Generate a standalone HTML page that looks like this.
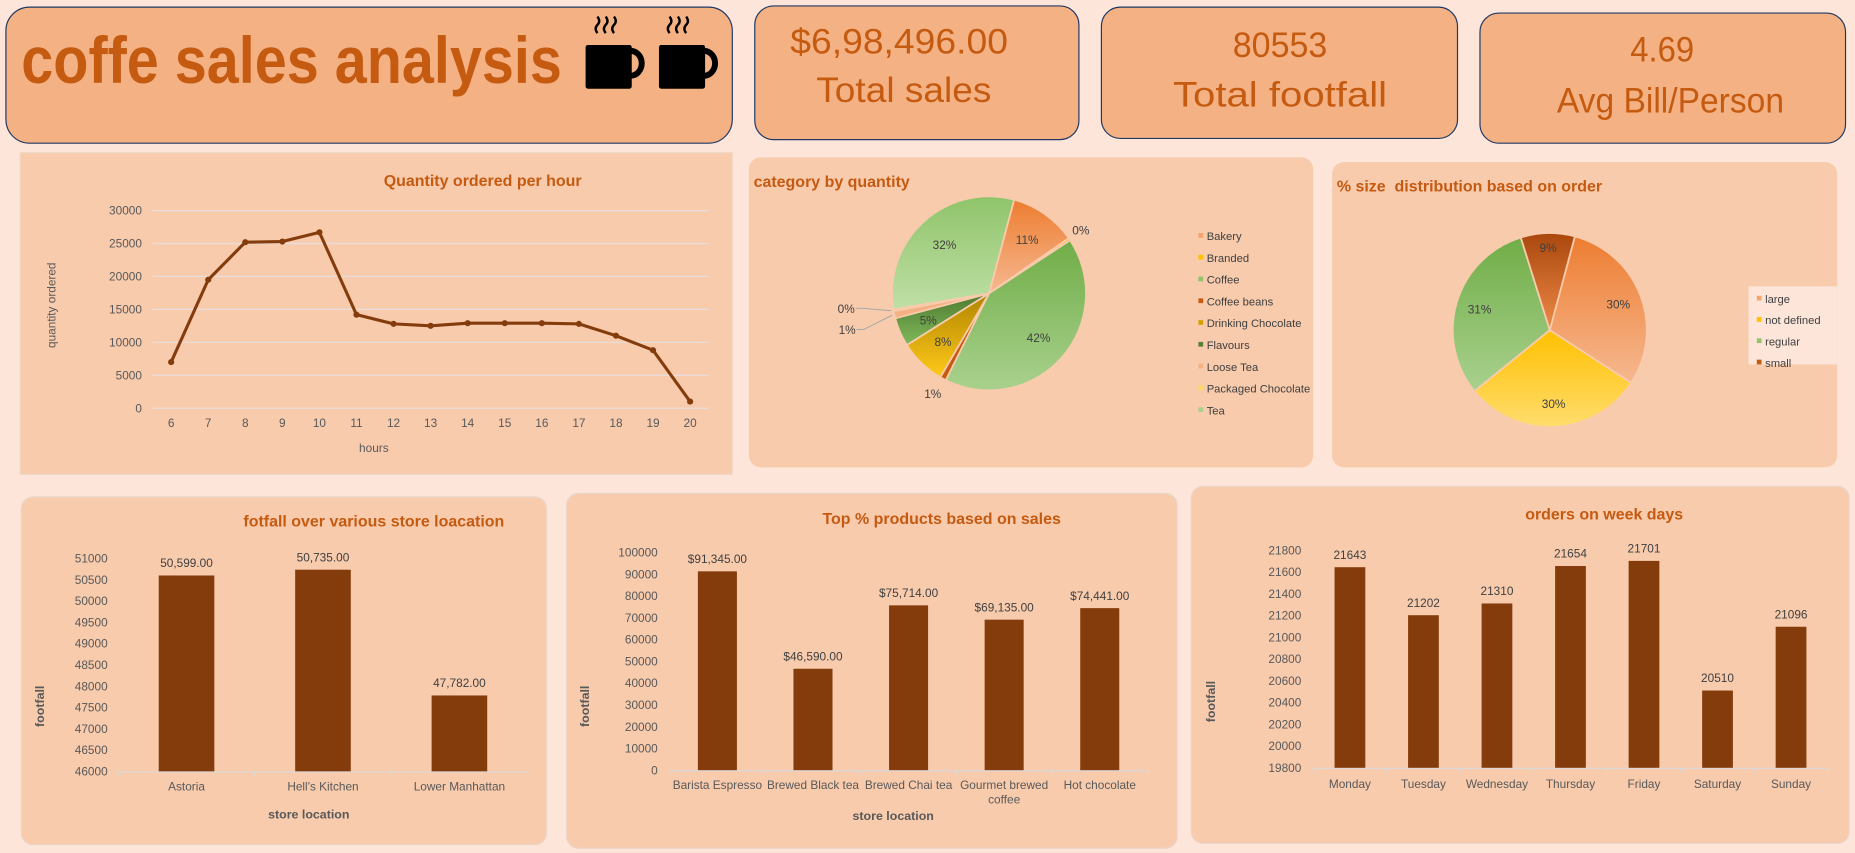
<!DOCTYPE html>
<html><head><meta charset="utf-8"><style>
html,body{margin:0;padding:0;background:#fde6d9;}
svg{display:block;font-family:"Liberation Sans",sans-serif;}
</style></head><body>
<svg id="root" width="1855" height="853" viewBox="0 0 1568 721" xmlns="http://www.w3.org/2000/svg">
<defs>
<linearGradient id="gOrange" x1="0" y1="0" x2="0" y2="1"><stop offset="0" stop-color="#ed7d31"/><stop offset="1" stop-color="#f6b890"/></linearGradient>
<linearGradient id="gYellow" x1="0" y1="0" x2="0" y2="1"><stop offset="0" stop-color="#ffc000"/><stop offset="1" stop-color="#ffdd6e"/></linearGradient>
<linearGradient id="gGreen" x1="0" y1="0" x2="0" y2="1"><stop offset="0" stop-color="#70ad47"/><stop offset="1" stop-color="#a9d18e"/></linearGradient>
<linearGradient id="gTea" x1="0" y1="0" x2="0" y2="1"><stop offset="0" stop-color="#8fc46a"/><stop offset="1" stop-color="#c0dfa6"/></linearGradient>
<linearGradient id="gBrown" x1="0" y1="0" x2="0" y2="1"><stop offset="0" stop-color="#a9470d"/><stop offset="1" stop-color="#ee8a48"/></linearGradient>
<linearGradient id="gGold" x1="0" y1="0" x2="0" y2="1"><stop offset="0" stop-color="#b08400"/><stop offset="1" stop-color="#ffc91a"/></linearGradient>
<linearGradient id="gDkGreen" x1="0" y1="0" x2="0" y2="1"><stop offset="0" stop-color="#4f7a30"/><stop offset="1" stop-color="#7fb85a"/></linearGradient>
</defs>

<rect x="0" y="0" width="1568" height="721" fill="#fde6d9"/>

<g>
<rect x="5" y="6" width="614" height="115" rx="20" fill="#f4b183" stroke="#203864" stroke-width="1"/>
<text x="18" y="70" font-size="56" font-weight="bold" fill="#c55a11" textLength="457" lengthAdjust="spacingAndGlyphs">coffe sales analysis</text>
<g fill="#000">
<path d="M505 28 q-3 -4 0 -7 q3 -3 0 -7" stroke="#000" stroke-width="2" fill="none"/>
<path d="M512 28 q-3 -4 0 -7 q3 -3 0 -7" stroke="#000" stroke-width="2" fill="none"/>
<path d="M519 28 q-3 -4 0 -7 q3 -3 0 -7" stroke="#000" stroke-width="2" fill="none"/>
<rect x="495" y="38" width="39" height="37" rx="2"/>
<path d="M533 43 a9 10 0 0 1 0 21" stroke="#000" stroke-width="5" fill="none"/>
</g>
<g fill="#000">
<path d="M566 28 q-3 -4 0 -7 q3 -3 0 -7" stroke="#000" stroke-width="2" fill="none"/>
<path d="M573 28 q-3 -4 0 -7 q3 -3 0 -7" stroke="#000" stroke-width="2" fill="none"/>
<path d="M580 28 q-3 -4 0 -7 q3 -3 0 -7" stroke="#000" stroke-width="2" fill="none"/>
<rect x="557" y="38" width="39" height="37" rx="2"/>
<path d="M595 43 a9 10 0 0 1 0 21" stroke="#000" stroke-width="5" fill="none"/>
</g>
</g>

<g>
<rect x="638" y="5" width="274" height="113" rx="16" fill="#f4b183" stroke="#203864"/>
<text x="760" y="45" font-size="30" fill="#c55a11" text-anchor="middle" textLength="184" lengthAdjust="spacingAndGlyphs">$6,98,496.00</text>
<text x="764" y="86" font-size="30" fill="#c55a11" text-anchor="middle" textLength="148" lengthAdjust="spacingAndGlyphs">Total sales</text>
</g>
<g>
<rect x="931" y="6" width="301" height="111" rx="16" fill="#f4b183" stroke="#203864"/>
<text x="1082" y="48" font-size="30" fill="#c55a11" text-anchor="middle" textLength="80" lengthAdjust="spacingAndGlyphs">80553</text>
<text x="1082" y="90" font-size="30" fill="#c55a11" text-anchor="middle" textLength="181" lengthAdjust="spacingAndGlyphs">Total footfall</text>
</g>
<g>
<rect x="1251" y="11" width="309" height="110" rx="16" fill="#f4b183" stroke="#203864"/>
<text x="1405" y="52" font-size="30" fill="#c55a11" text-anchor="middle" textLength="54" lengthAdjust="spacingAndGlyphs">4.69</text>
<text x="1412" y="95" font-size="30" fill="#c55a11" text-anchor="middle" textLength="192" lengthAdjust="spacingAndGlyphs">Avg Bill/Person</text>
</g>

<g id="charts"></g>
</svg>
<script>
// ---- Line chart data ----
const hourCats = [6,7,8,9,10,11,12,13,14,15,16,17,18,19,20];
const hourQty = [7000,19500,25200,25300,26700,14200,12800,12500,12900,12900,12900,12800,11000,8800,1000];
const hourTicks = [0,5000,10000,15000,20000,25000,30000];
// ---- Category pie ----
const catNames = ["Bakery","Branded","Coffee","Coffee beans","Drinking Chocolate","Flavours","Loose Tea","Packaged Chocolate","Tea"];
const catShare = [11.2,0.4,41.6,1.0,7.7,4.8,1.2,0.3,31.8];
// ---- Size pie ----
const sizeNames = ["large","not defined","regular","small"];
const sizeShare = [30,30,31,9];
// ---- Store footfall ----
const storeCats = ["Astoria","Hell's Kitchen","Lower Manhattan"];
const storeVals = [50599,50735,47782];
const storeTicks = [46000,46500,47000,47500,48000,48500,49000,49500,50000,50500,51000];
// ---- Top products ----
const prodCats = [["Barista Espresso"],["Brewed Black tea"],["Brewed Chai tea"],["Gourmet brewed","coffee"],["Hot chocolate"]];
const prodVals = [91345,46590,75714,69135,74441];
const prodTicks = [0,10000,20000,30000,40000,50000,60000,70000,80000,90000,100000];
// ---- Weekday orders ----
const dayCats = ["Monday","Tuesday","Wednesday","Thursday","Friday","Saturday","Sunday"];
const dayVals = [21643,21202,21310,21654,21701,20510,21096];
const dayTicks = [19800,20000,20200,20400,20600,20800,21000,21200,21400,21600,21800];

const NS = "http://www.w3.org/2000/svg";
const root = document.getElementById("charts");
function el(tag, parent, attrs){const e=document.createElementNS(NS,tag);for(const k in attrs)e.setAttribute(k,attrs[k]);parent.appendChild(e);return e;}
function txt(parent, x, y, s, size, fill, anchor, extra){const t=el("text",parent,Object.assign({x:x,y:y,"font-size":size,fill:fill,"text-anchor":anchor||"start"},extra||{}));t.textContent=s;return t;}
const fmt2 = v => v.toLocaleString("en-US",{minimumFractionDigits:2,maximumFractionDigits:2});

// ===== Line chart =====
(function(){
  const g = el("g", root, {});
  
  
  el("rect", g, {x:17,y:129,width:602,height:272,fill:"#f8cbad",stroke:"#f0d8c8"});
  const tt = txt(g,408,157,"Quantity ordered per hour",13.5,"#c55a11","middle",{"font-weight":"bold"});
  
  
  const x0=129,x1=599,yTop=178,yBot=345,ymax=30000;
  const band=(x1-x0)/hourCats.length;
  const X=i=>x0+band*(i+0.5);
  const Y=v=>yBot-(v/ymax)*(yBot-yTop);
  hourTicks.forEach(t=>{
    el("line",g,{x1:x0,x2:x1,y1:Y(t),y2:Y(t),stroke:"#e8dede","stroke-width":1});
    const l=txt(g,120,Y(t)+3.5,String(t),10,"#595959","end");
    
    
  });
  hourCats.forEach((c,i)=>{
    const l=txt(g,X(i),361,String(c),10,"#595959","middle");
    
    
  });
  const xt=txt(g,316,382,"hours",10,"#595959","middle");
  
  
  const yt=txt(g,0,0,"quantity ordered",10,"#595959","middle",{transform:"translate(47,258) rotate(-90)"});
  
  
  const pts=hourQty.map((v,i)=>X(i)+","+Y(v)).join(" ");
  const pl=el("polyline",g,{points:pts,fill:"none",stroke:"#843c0c","stroke-width":2.6,"stroke-linejoin":"round"});
  
  
  hourQty.forEach((v,i)=>{
    const c=el("circle",g,{cx:X(i),cy:Y(v),r:2.6,fill:"#843c0c"});
    
    
  });
})();

function pie(g, cx, cy, r, vals, fills, start, labelFn){
  const tot=vals.reduce((a,b)=>a+b,0);
  let a=start;
  const P=(ang,rad)=>[cx+rad*Math.sin(ang*Math.PI/180), cy-rad*Math.cos(ang*Math.PI/180)];
  vals.forEach((v,i)=>{
    const sweep=v/tot*360;
    const [sx,sy]=P(a,r),[ex,ey]=P(a+sweep,r);
    const p=el("path",g,{d:`M${cx},${cy} L${sx},${sy} A${r},${r} 0 ${sweep>180?1:0} 1 ${ex},${ey} Z`,fill:fills[i],stroke:"#f8cbad","stroke-width":1.5});
    
    
    labelFn(i, v, a+sweep/2, P);
    a+=sweep;
  });
}

// ===== Category pie =====
(function(){
  const g = el("g", root, {});
  
  
  el("rect", g, {x:633,y:133,width:477,height:262,rx:10,fill:"#f8cbad"});
  const tt=txt(g,637,158,"category by quantity",13.5,"#c55a11","start",{"font-weight":"bold"});
  
  
  const fills=["url(#gOrange)","#ffc000","url(#gGreen)","#c55a11","url(#gGold)","url(#gDkGreen)","#f4b183","#ffd966","url(#gTea)"];
  const tot=catShare.reduce((a,b)=>a+b,0);
  let leftIdx=0;
  pie(g,836,248,82,catShare,fills,15,(i,v,mid,P)=>{
    const pct=Math.round(v/tot*100)+"%";
    let x,y;
    if(v/tot<0.02){
      if(mid>250&&mid<300){
        const [ax,ay]=P(mid,84);
        const bx=ax-24, by=leftIdx===0?ay+12:ay-2;
        x=bx-14; y=by+4;
        el("polyline",g,{points:`${ax},${ay} ${bx},${by} ${bx-6},${by}`,fill:"none",stroke:"#a6a6a6","stroke-width":0.8});
        leftIdx++;
      } else { [x,y]=P(mid,96); y+=4; x-=2; }
    } else { [x,y]=P(mid,56); y+=4; }
    const l=txt(g,x,y,pct,10,"#404040","middle");
    
    
  });
  const legColors=["#f4a46c","#ffc000","#8fc46a","#c55a11","#d4a000","#548235","#f4b183","#ffd966","#a9d18e"];
  catNames.forEach((n,i)=>{
    const y=204+i*18.4;
    const lg=el("g",g,{});
    
    
    el("rect",lg,{x:1013,y:y-7,width:4,height:4,fill:legColors[i]});
    txt(lg,1020,y-1,n,9.5,"#404040");
  });
})();

// ===== Size pie =====
(function(){
  const g = el("g", root, {});
  
  
  el("rect", g, {x:1126,y:137,width:427,height:258,rx:10,fill:"#f8cbad"});
  const tt=txt(g,1130,162,"% size\u00a0 distribution based on order",13.5,"#c55a11","start",{"font-weight":"bold"});
  
  
  const fills=["url(#gOrange)","url(#gYellow)","url(#gGreen)","url(#gBrown)"];
  pie(g,1310,279,82,sizeShare,fills,15,(i,v,mid,P)=>{
    let [x,y]=P(mid,i===3?70:62);
    const l=txt(g,x,y+4,Math.round(v)+"%",10,"#404040","middle");
    
    
  });
  el("rect",g,{x:1478,y:242,width:75,height:66,fill:"#fde6d9"});
  const legColors=["#f4a46c","#ffc000","#8fc46a","#c55a11"];
  sizeNames.forEach((n,i)=>{
    const y=256+i*18;
    const lg=el("g",g,{});
    
    
    el("rect",lg,{x:1485,y:y-6,width:4,height:4,fill:legColors[i]});
    txt(lg,1492,y,n,9.5,"#404040");
  });
})();

function barChart(o){
  const g = el("g", root, {});
  
  
  el("rect", g, {x:o.px,y:o.py,width:o.pw,height:o.ph,rx:10,fill:"#f8cbad",stroke:"#ead6ca"});
  const tt=txt(g,o.tx,o.ty,o.title,13.5,"#c55a11","middle",{"font-weight":"bold"});
  
  
  const tmin=o.ticks[0],tmax=o.ticks[o.ticks.length-1];
  const Y=v=>o.yBot-(v-tmin)/(tmax-tmin)*(o.yBot-o.yTop);
  const band=(o.x1-o.x0)/o.cats.length;
  const X=i=>o.x0+band*(i+0.5);
  o.ticks.forEach(t=>{
    const l=txt(g,o.lx,Y(t)+3.5,String(t),10,"#595959","end");
    
    
  });
  el("line",g,{x1:o.x0,x2:o.x1,y1:o.yBot+0.5,y2:o.yBot+0.5,stroke:"#d9d9d9","stroke-width":1});
  for(let i=0;i<=o.cats.length;i++) el("line",g,{x1:o.x0+band*i,x2:o.x0+band*i,y1:o.yBot,y2:o.yBot+4,stroke:"#d9d9d9"});
  o.vals.forEach((v,i)=>{
    const b=el("rect",g,{x:X(i)-o.bw/2,y:Y(v),width:o.bw,height:o.yBot-Y(v),fill:"#843c0c"});
    
    
    const l=txt(g,X(i),Y(v)-7,o.lab(v),10,"#404040","middle");
    
    
    const lines=Array.isArray(o.cats[i])?o.cats[i]:[o.cats[i]];
    lines.forEach((s,k)=>{
      const c=txt(g,X(i),o.cy+k*12,s,10,"#595959","middle");
      
      
    });
  });
  if(o.xTitle){
    const xt=txt(g,o.xtx,o.xty,o.xTitle,10.5,"#595959","middle",{"font-weight":"bold"});
    
    
  }
  const yt=txt(g,0,0,"footfall",10.5,"#595959","middle",{"font-weight":"bold",transform:`translate(${o.ytx},${o.yty}) rotate(-90)`});
  
  
}

barChart({name:"footfall-by-store-chart",px:18,py:420,pw:444,ph:294,title:"fotfall over various store loacation",tx:316,ty:445,
  ticks:storeTicks,yTop:472,yBot:652,x0:100,x1:446,bw:47,lx:91,cats:storeCats,vals:storeVals,cy:668,lab:fmt2,
  xTitle:"store location",xtx:261,xty:692,ytx:37,yty:597});
barChart({name:"top-products-chart",px:479,py:417,pw:516,ph:300,title:"Top % products based on sales",tx:796,ty:443,
  ticks:prodTicks,yTop:467,yBot:651,x0:566,x1:970,bw:33,lx:556,cats:prodCats,vals:prodVals,cy:667,lab:v=>"$"+fmt2(v),
  xTitle:"store location",xtx:755,xty:693,ytx:498,yty:597});
barChart({name:"orders-by-weekday-chart",px:1007,py:411,pw:556,ph:302,title:"orders on week days",tx:1356,ty:439,
  ticks:dayTicks,yTop:465,yBot:649,x0:1110,x1:1545,bw:26,lx:1100,cats:dayCats,vals:dayVals,cy:666,lab:v=>String(v),
  xTitle:null,ytx:1027,yty:593});
</script>
</body></html>
